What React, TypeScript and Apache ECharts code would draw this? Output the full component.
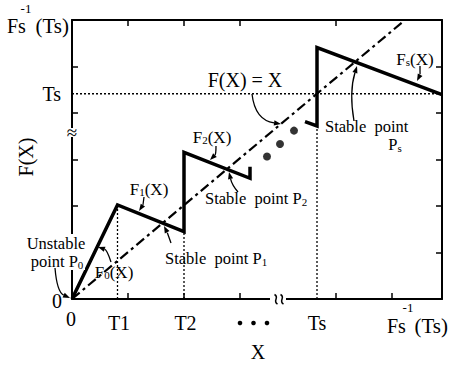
import { useEffect, useRef } from 'react';
import * as echarts from 'echarts';

// Canvas size and plotting frame
const W = 451;
const H = 365;
const GRID = { left: 72, right: 9, top: 20, bottom: 66 };

// Axis extents (F(X) = X is the diagonal y = x)
const X_MAX = 37;
const Y_MAX = 33.3;

// Switching instants
const T1 = 4.55;
const T2 = 11.2;
const TS = 24.5;

// Saw-tooth map F(X): F0, F1, F2 branches
const lowBranch = [
  [0, 0],
  [T1, 11.22],
  [T2, 8.03],
  [T2, 17.51],
  [17.8, 14.41],
  [17.8, 15.79],
];
// Tail of the previous branch and Fs(X)
const highBranch = [
  [23.3, 21.16],
  [TS, 20.65],
  [TS, 30.0],
  [X_MAX, 24.4],
];
const identityLine = [
  [0, 0],
  [Y_MAX, Y_MAX],
];
const ellipsisDots = [
  [19.5, 17.0],
  [20.8, 18.5],
  [22.2, 20.1],
];

// Tick positions on the frame
const bottomTicks = [5.6, 11.2, 16.8, 26.4, 32];
const topTicks = [5.6, 11.2, 16.8, 26.4];
const leftTicks = [11.1, 16.65, 22.2, 27.75];
const rightTicks = [5.55, 11.1, 16.65, 22.2, 27.75];

const SERIF = '"Liberation Serif", "Times New Roman", "DejaVu Serif", serif';

const px = (x: number) => GRID.left + (x / X_MAX) * (W - GRID.left - GRID.right);

function label(
  text: string,
  x: number,
  y: number,
  size: number,
  align: 'left' | 'center' | 'right' = 'center',
  extra: Record<string, unknown> = {}
) {
  return {
    type: 'text',
    x,
    y,
    z: 20,
    silent: true,
    ...extra,
    style: {
      text,
      x: 0,
      y: 0,
      fill: '#000',
      font: `${size}px ${SERIF}`,
      align,
      verticalAlign: 'middle',
    },
  };
}

// Text with subscripts: parts alternate [text, isSubscript]
function subLabel(
  parts: [string, boolean][],
  x: number,
  y: number,
  size: number,
  align: 'left' | 'center' | 'right' = 'center'
) {
  const text = parts
    .map(([t, sub]) => `{${sub ? 's' : 'n'}|${t}}`)
    .join('');
  return {
    type: 'text',
    x,
    y,
    z: 20,
    silent: true,
    style: {
      text,
      x: 0,
      y: 0,
      align,
      verticalAlign: 'middle',
      rich: {
        n: {
          fontSize: size,
          fontFamily: SERIF,
          color: '#000',
          lineHeight: size,
          verticalAlign: 'bottom',
        },
        s: {
          fontSize: Math.round(size * 0.66),
          fontFamily: SERIF,
          color: '#000',
          lineHeight: Math.round(size * 0.2),
          verticalAlign: 'bottom',
        },
      },
    },
  };
}

// Curved pointer with a filled head at (x2, y2)
function pointer(x1: number, y1: number, cx: number, cy: number, x2: number, y2: number) {
  const dx = x2 - cx;
  const dy = y2 - cy;
  const len = Math.hypot(dx, dy) || 1;
  const ux = dx / len;
  const uy = dy / len;
  const bx = x2 - ux * 7;
  const by = y2 - uy * 7;
  const nx = -uy * 2.6;
  const ny = ux * 2.6;
  return [
    {
      type: 'bezierCurve',
      z: 20,
      silent: true,
      shape: { x1, y1, cpx1: cx, cpy1: cy, x2: bx, y2: by },
      style: { stroke: '#000', lineWidth: 1.3, fill: null },
    },
    {
      type: 'polygon',
      z: 20,
      silent: true,
      shape: {
        points: [
          [x2, y2],
          [bx + nx, by + ny],
          [bx - nx, by - ny],
        ],
      },
      style: { fill: '#000' },
    },
  ];
}

function dottedGuide(data: number[][]) {
  return {
    type: 'line',
    data,
    symbol: 'none',
    silent: true,
    z: 3,
    lineStyle: { color: '#000', width: 1.3, type: [2, 2] },
  };
}

function axisBase(extra: Record<string, unknown>) {
  return {
    type: 'value',
    axisLine: { show: true, onZero: false, lineStyle: { color: '#000', width: 2 } },
    axisLabel: { show: false },
    splitLine: { show: false },
    ...extra,
  };
}

function buildOption() {
  const tick = (values: number[]) => ({
    show: true,
    inside: true,
    length: 6,
    lineStyle: { color: '#000', width: 1.5 },
    customValues: values,
  });

  const graphics: any[] = [
    // frame breaks
    { type: 'rect', z: 15, shape: { x: 270, y: 295, width: 16, height: 8 }, style: { fill: '#fff' } },
    ...[276, 282].map((cx) => ({
      type: 'bezierCurve',
      z: 16,
      shape: { x1: cx - 1.5, y1: 294.5, cpx1: cx + 4, cpy1: 297.5, cpx2: cx - 4, cpy2: 301, x2: cx + 1.5, y2: 304 },
      style: { stroke: '#000', lineWidth: 1.5, fill: null },
    })),
    { type: 'rect', z: 15, shape: { x: 67, y: 128, width: 11, height: 9 }, style: { fill: '#fff' } },
    label('≈', 72, 132.5, 19),

    // white backing behind the P0 caption
    { type: 'rect', z: 15, shape: { x: 25, y: 234, width: 60, height: 36 }, style: { fill: '#fff' } },

    // y-axis captions
    label('Fs', 7, 26, 20, 'left'),
    label('-1', 26, 8.5, 13),
    label('(Ts)', 69, 26, 21, 'right'),
    label('Ts', 61, 94, 20, 'right'),
    label('0', 57, 301, 20),
    label('F(X)', 26, 157, 20, 'center', { rotation: Math.PI / 2 }),

    // x-axis captions
    label('0', px(0) - 1, 318.5, 20),
    label('T1', px(T1) + 1.5, 322.5, 20),
    label('T2', px(T2) + 1.5, 322.5, 20),
    { type: 'circle', z: 20, shape: { cx: 240, cy: 323, r: 2.3 }, style: { fill: '#000' } },
    { type: 'circle', z: 20, shape: { cx: 253.5, cy: 323, r: 2.3 }, style: { fill: '#000' } },
    { type: 'circle', z: 20, shape: { cx: 267, cy: 323, r: 2.3 }, style: { fill: '#000' } },
    label('Ts', px(TS), 323, 20),
    label('Fs', 387, 326, 20, 'left'),
    label('-1', 408, 307.5, 13),
    label('(Ts)', 448, 326, 21, 'right'),
    label('X', 258, 352, 20),

    // annotations
    label('F(X) = X', 245, 80, 20),
    subLabel([['F', false], ['2', true], ['(X)', false]], 212, 137, 17),
    subLabel([['F', false], ['1', true], ['(X)', false]], 149, 189, 17),
    subLabel([['F', false], ['0', true], ['(X)', false]], 114, 272, 17),
    subLabel([['F', false], ['s', true], ['(X)', false]], 415, 59, 17),
    label('Unstable', 56, 243, 16.5),
    subLabel([['point P', false], ['0', true]], 57, 262, 16.5),
    subLabel([['Stable  point P', false], ['1', true]], 165, 259, 16.5, 'left'),
    subLabel([['Stable  point P', false], ['2', true]], 205, 199, 16.5, 'left'),
    label('Stable  point', 325, 126, 16.5, 'left'),
    subLabel([['P', false], ['s', true]], 395, 145, 16.5),

    ...pointer(252, 94, 255, 120, 281, 124),
    ...pointer(216, 146, 216, 154, 210, 160),
    ...pointer(144, 197, 143, 205, 139, 211),
    ...pointer(111, 262, 107, 250, 98, 247),
    ...pointer(55, 268, 57, 292, 70, 298),
    ...pointer(171, 243, 167, 232, 164, 226),
    ...pointer(238, 192, 232, 185, 229, 172),
    ...pointer(354, 121, 349, 92, 357, 66),
    ...pointer(420, 66, 420, 75, 417, 81),
  ];

  return {
    animation: false,
    backgroundColor: '#fff',
    grid: { ...GRID, containLabel: false },
    xAxis: [
      axisBase({ position: 'bottom', min: 0, max: X_MAX, axisTick: tick(bottomTicks) }),
      axisBase({ position: 'top', min: 0, max: X_MAX, axisTick: tick(topTicks) }),
    ],
    yAxis: [
      axisBase({ position: 'left', min: 0, max: Y_MAX, axisTick: tick(leftTicks) }),
      axisBase({ position: 'right', min: 0, max: Y_MAX, axisTick: tick(rightTicks) }),
    ],
    series: [
      dottedGuide([
        [0, TS],
        [X_MAX, TS],
      ]),
      dottedGuide([
        [T1, 0],
        [T1, lowBranch[1][1]],
      ]),
      dottedGuide([
        [T2, 0],
        [T2, lowBranch[2][1]],
      ]),
      dottedGuide([
        [TS, 0],
        [TS, highBranch[1][1]],
      ]),
      {
        type: 'line',
        data: identityLine,
        symbol: 'none',
        silent: true,
        z: 4,
        lineStyle: { color: '#000', width: 2.2, type: [10, 4, 3, 4] },
      },
      {
        type: 'line',
        data: lowBranch,
        symbol: 'none',
        silent: true,
        z: 5,
        lineStyle: { color: '#000', width: 3.5, join: 'miter' },
      },
      {
        type: 'line',
        data: highBranch,
        symbol: 'none',
        silent: true,
        z: 5,
        lineStyle: { color: '#000', width: 3.5, join: 'miter' },
      },
      {
        type: 'scatter',
        data: ellipsisDots,
        symbol: 'circle',
        symbolSize: 8,
        silent: true,
        z: 5,
        itemStyle: { color: '#000' },
      },
    ],
    graphic: graphics,
  };
}

export default function App() {
  const ref = useRef<HTMLDivElement>(null);
  useEffect(() => {
    if (!ref.current) return;
    const chart = echarts.init(ref.current, null, { renderer: 'svg' });
    chart.setOption(buildOption() as any);
    return () => chart.dispose();
  }, []);
  return (
    <div
      ref={ref}
      style={{ position: 'absolute', left: 0, top: 0, width: W, height: H, background: '#fff' }}
    />
  );
}
